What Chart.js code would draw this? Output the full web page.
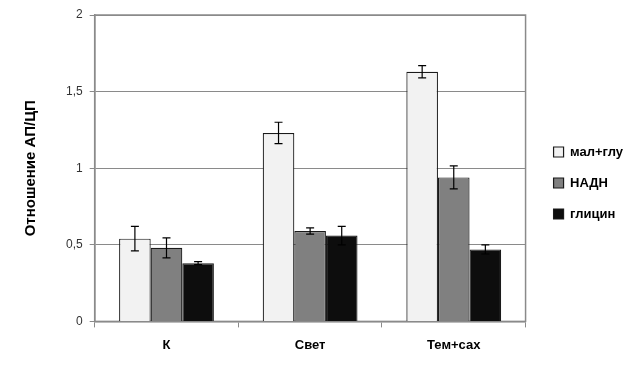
<!DOCTYPE html>
<html>
<head>
<meta charset="utf-8">
<script src="https://cdn.jsdelivr.net/npm/chart.js@4.4.0/dist/chart.umd.min.js"></script>
<style>
  html, body { margin: 0; padding: 0; background: #fff; }
  #wrap { width: 639px; height: 365px; }
</style>
</head>
<body>
<div id="wrap"><canvas id="ratioChart"></canvas></div>
<script>
// Данные графика
const categories = ['К', 'Свет', 'Тем+сах'];
const seriesNames = ['мал+глу', 'НАДН', 'глицин'];
const malGlu = [0.54, 1.23, 1.63];
const malGluErr = [0.08, 0.07, 0.04];
const nadh = [0.48, 0.59, 0.94];
const nadhErr = [0.065, 0.02, 0.075];
const glycine = [0.38, 0.56, 0.47];
const glycineErr = [0.01, 0.06, 0.03];
const yTicks = [0, 0.5, 1, 1.5, 2];

const FONT = "'Liberation Sans', 'DejaVu Sans', sans-serif";

// Планки погрешностей
const errorBars = {
    id: 'errorBars',
    afterDatasetsDraw(chart) {
        const ctx = chart.ctx;
        const y = chart.scales.y;
        ctx.save();
        ctx.strokeStyle = '#000';
        ctx.lineWidth = 1.2;
        chart.data.datasets.forEach((ds, i) => {
            const meta = chart.getDatasetMeta(i);
            meta.data.forEach((bar, j) => {
                const v = ds.data[j], e = ds.errors[j];
                const top = y.getPixelForValue(v + e);
                const bot = y.getPixelForValue(v - e);
                ctx.beginPath();
                ctx.moveTo(bar.x, top); ctx.lineTo(bar.x, bot);
                ctx.moveTo(bar.x - 4, top); ctx.lineTo(bar.x + 4, top);
                ctx.moveTo(bar.x - 4, bot); ctx.lineTo(bar.x + 4, bot);
                ctx.stroke();
            });
        });
        ctx.restore();
    }
};

// Рамка области построения
const plotFrame = {
    id: 'plotFrame',
    beforeDatasetsDraw(chart) {
        const { ctx, chartArea: a } = chart;
        ctx.save();
        ctx.strokeStyle = '#8a8a8a';
        ctx.lineWidth = 1.5;
        ctx.strokeRect(a.left, a.top, a.right - a.left, a.bottom - a.top);
        ctx.restore();
    }
};

// Легенду чуть выше центра, как в оригинале
const legendNudge = {
    id: 'legendNudge',
    afterLayout(chart) {
        if (!chart.legend) return;
        chart.legend.top -= 6;
        chart.legend.bottom -= 6;
    }
};

const ctx = document.getElementById('ratioChart').getContext('2d');
new Chart(ctx, {
    type: 'bar',
    data: {
        labels: categories,
        datasets: [
            { label: seriesNames[0], data: malGlu, errors: malGluErr, backgroundColor: '#f2f2f2' },
            { label: seriesNames[1], data: nadh, errors: nadhErr, backgroundColor: '#808080' },
            { label: seriesNames[2], data: glycine, errors: glycineErr, backgroundColor: '#0d0d0d' }
        ]
    },
    options: {
        responsive: true, maintainAspectRatio: false, animation: false,
        layout: { padding: { top: 15, bottom: 2, left: 18, right: 6 } },
        datasets: { bar: { borderColor: '#1a1a1a', borderWidth: 1.2, categoryPercentage: 0.66, barPercentage: 1 } },
        plugins: {
            legend: {
                position: 'right',
                labels: {
                    boxWidth: 10, boxHeight: 10, padding: 18, color: '#000',
                    font: { family: FONT, size: 13, weight: 'bold' }
                }
            },
            tooltip: { enabled: false }
        },
        scales: {
            x: {
                grid: { drawOnChartArea: false, drawTicks: true, tickLength: 6, color: '#8a8a8a' },
                border: { color: '#8a8a8a', width: 1.5 },
                ticks: { color: '#000', padding: 10, font: { family: FONT, size: 13, weight: 'bold' } }
            },
            y: {
                min: 0, max: 2,
                afterBuildTicks: (axis) => { axis.ticks = yTicks.map(v => ({ value: v })); },
                grid: { color: '#8a8a8a', lineWidth: 1, tickLength: 5 },
                border: { color: '#8a8a8a', width: 1.5 },
                ticks: {
                    color: '#333', padding: 7, font: { family: FONT, size: 12 },
                    callback: (v) => String(v).replace('.', ',')
                },
                title: {
                    display: true, text: 'Отношение АП/ЦП', color: '#000', padding: { top: 4, bottom: 19 },
                    font: { family: FONT, size: 15, weight: 'bold' }
                }
            },
            // пустая правая ось — зазор между областью и легендой
            yGap: {
                position: 'right', display: true,
                grid: { drawOnChartArea: false, drawTicks: false },
                border: { display: false },
                ticks: { display: false },
                afterFit: (axis) => { axis.width = 10; }
            }
        }
    },
    plugins: [errorBars, plotFrame, legendNudge]
});
</script>
</body>
</html>
